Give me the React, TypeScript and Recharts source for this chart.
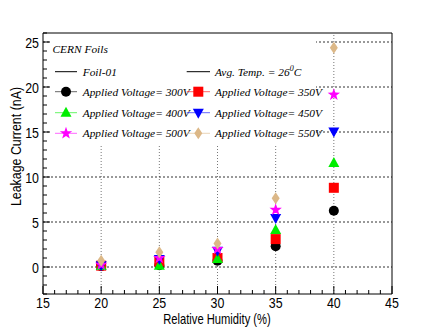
import React from "react";
import { ScatterChart, Scatter, XAxis, YAxis, ReferenceLine } from "recharts";

// relative humidity (%) at which each foil measurement was taken
const humidity = [20, 25, 30, 35, 40];

// leakage current (nA) per applied voltage
const leak300 = [0.1, 0.2, 0.7, 2.3, 6.25];
const leak350 = [0.15, 0.6, 1.0, 3.1, 8.8];
const leak400 = [0.1, 0.15, 0.9, 4.1, 11.55];
const leak450 = [0.2, 0.9, 1.8, 5.45, 15.05];
const leak500 = [0.25, 1.0, 2.0, 6.35, 19.15];
const leak550 = [0.7, 1.65, 2.6, 7.65, 24.35];

const voltageLabels = ["300V", "350V", "400V", "450V", "500V", "550V"];

const xTicks = [15, 16, 17, 18, 19, 20, 21, 22, 23, 24, 25, 26, 27, 28, 29, 30, 31, 32, 33, 34, 35, 36, 37, 38, 39, 40, 41, 42, 43, 44, 45];
const yTicks = [-3, -2, -1, 0, 1, 2, 3, 4, 5, 6, 7, 8, 9, 10, 11, 12, 13, 14, 15, 16, 17, 18, 19, 20, 21, 22, 23, 24, 25, 26];
const xGrid = [20, 25, 30, 35, 40];
const yGrid = [0, 5, 10, 15, 20, 25];

const series = [
  { name: voltageLabels[0], values: leak300, color: "#000000", kind: "circle" },
  { name: voltageLabels[1], values: leak350, color: "#ff0000", kind: "square" },
  { name: voltageLabels[2], values: leak400, color: "#00ee00", kind: "triangle" },
  { name: voltageLabels[3], values: leak450, color: "#0000ff", kind: "triangleDown" },
  { name: voltageLabels[4], values: leak500, color: "#ff00ff", kind: "star" },
  { name: voltageLabels[5], values: leak550, color: "#dcb888", kind: "diamond" },
];

const sansFont = "'Liberation Sans', Arial, sans-serif";
const legendFont = "'Liberation Serif', 'DejaVu Serif', serif";
const squeeze = 0.8; // ROOT's helvetica renders narrower than Liberation Sans

function starPoints(cx: number, cy: number, outer: number, inner: number) {
  const pts: string[] = [];
  for (let i = 0; i < 10; i++) {
    const r = i % 2 === 0 ? outer : inner;
    const a = -Math.PI / 2 + (i * Math.PI) / 5;
    pts.push(`${cx + r * Math.cos(a)},${cy + r * Math.sin(a)}`);
  }
  return pts.join(" ");
}

function Marker({ kind, color, cx, cy }: { kind: string; color: string; cx: number; cy: number }) {
  if (cx == null || cy == null) return null;
  switch (kind) {
    case "circle":
      return <circle cx={cx} cy={cy} r={5} fill={color} />;
    case "square":
      return <rect x={cx - 5} y={cy - 5} width={10} height={10} fill={color} />;
    case "triangle":
      return <polygon points={`${cx},${cy - 6} ${cx + 5.5},${cy + 4} ${cx - 5.5},${cy + 4}`} fill={color} />;
    case "triangleDown":
      return <polygon points={`${cx},${cy + 6} ${cx + 5.5},${cy - 4} ${cx - 5.5},${cy - 4}`} fill={color} />;
    case "star":
      return <polygon points={starPoints(cx, cy, 6.5, 2.6)} fill={color} />;
    case "diamond":
      return <polygon points={`${cx},${cy - 6} ${cx + 4},${cy} ${cx},${cy + 6} ${cx - 4},${cy}`} fill={color} />;
  }
  return null;
}

// axis sits at the plot edge (tickSize/tickMargin 0); ticks point inward like ROOT
const XTick = (props: any) => {
  const { x, y, payload } = props;
  const major = payload.value % 5 === 0;
  return (
    <g>
      <line x1={x} x2={x} y1={y} y2={y - (major ? 8 : 4)} stroke="#000" />
      {major && (
        <text
          transform={`translate(${x},${y + 13.5}) scale(${squeeze},1)`}
          textAnchor="middle"
          fontFamily={sansFont}
          fontSize={15.5}
          fill="#000"
        >
          {payload.value}
        </text>
      )}
    </g>
  );
};

const YTick = (props: any) => {
  const { x, y, payload } = props;
  const major = payload.value % 5 === 0;
  return (
    <g>
      <line x1={x} x2={x + (major ? 7 : 4)} y1={y} y2={y} stroke="#000" />
      {major && (
        <text
          transform={`translate(${x - 4},${y + 5.5}) scale(${squeeze},1)`}
          textAnchor="end"
          fontFamily={sansFont}
          fontSize={15.5}
          fill="#000"
        >
          {payload.value}
        </text>
      )}
    </g>
  );
};

function Overlay() {
  const rowsY = [91.7, 112.7, 133.3];
  const cols = [
    { lineX1: 55, lineX2: 77, markX: 66, textX: 82.7 },
    { lineX1: 186.7, lineX2: 210, markX: 198.3, textX: 215 },
  ];
  const textStyle = { fontFamily: legendFont, fontStyle: "italic" as const, fontSize: 11.4 };
  return (
    <svg width={436} height={327} style={{ position: "absolute", left: 0, top: 0, pointerEvents: "none" }}>
      <rect x={51} y={35} width={265} height={110} fill="#fff" />
      <text x={52.5} y={53} {...textStyle}>CERN Foils</text>
      <line x1={cols[0].lineX1} x2={cols[0].lineX2} y1={71.7} y2={71.7} stroke="#000" />
      <text x={cols[0].textX} y={75.7} {...textStyle}>Foil-01</text>
      <line x1={cols[1].lineX1} x2={cols[1].lineX2} y1={71.7} y2={71.7} stroke="#000" />
      <text x={cols[1].textX} y={75.7} {...textStyle}>
        Avg. Temp. = 26<tspan dy={-5} fontSize={8}>0</tspan>
        <tspan dy={5}>C</tspan>
      </text>
      {series.map((s, i) => {
        const col = cols[i % 2];
        const ry = rowsY[Math.floor(i / 2)];
        return (
          <g key={s.name}>
            <line x1={col.lineX1} x2={col.lineX2} y1={ry} y2={ry} stroke={s.color} strokeOpacity={0.6} />
            <Marker kind={s.kind} color={s.color} cx={col.markX} cy={ry} />
            <text x={col.textX} y={ry + 4} {...textStyle}>{`Applied Voltage= ${s.name}`}</text>
          </g>
        );
      })}
      <text
        transform={`translate(217,323.5) scale(${squeeze},1)`}
        textAnchor="middle"
        fontFamily={sansFont}
        fontSize={14}
      >
        Relative Humidity (%)
      </text>
      <text
        transform={`translate(21,146.5) rotate(-90) scale(${squeeze},1)`}
        textAnchor="middle"
        fontFamily={sansFont}
        fontSize={15.5}
      >
        Leakage Current (nA)
      </text>
    </svg>
  );
}

export default function App() {
  return (
    <div style={{ position: "absolute", left: 0, top: 0, width: 436, height: 327, background: "#fff" }}>
      <ScatterChart width={436} height={327} margin={{ top: 33, right: 44, bottom: 32, left: 42 }}>
        <XAxis
          type="number"
          dataKey="x"
          domain={[15, 45]}
          ticks={xTicks}
          interval={0}
          height={1}
          tickSize={0}
          tickMargin={0}
          tick={<XTick />}
          axisLine={{ stroke: "#000" }}
          tickLine={false}
          allowDataOverflow
        />
        <YAxis
          type="number"
          dataKey="y"
          domain={[-3, 26]}
          ticks={yTicks}
          interval={0}
          width={1}
          tickSize={0}
          tickMargin={0}
          tick={<YTick />}
          axisLine={{ stroke: "#000" }}
          tickLine={false}
          allowDataOverflow
        />
        {xGrid.map((v) => (
          <ReferenceLine key={`gx${v}`} x={v} stroke="#777" strokeDasharray="1 2" />
        ))}
        {yGrid.map((v) => (
          <ReferenceLine key={`gy${v}`} y={v} stroke="#333" strokeDasharray="2 2" />
        ))}
        <ReferenceLine x={45} stroke="#000" />
        <ReferenceLine y={26} stroke="#000" />
        {series.map((s) => (
          <Scatter
            key={s.name}
            name={s.name}
            data={humidity.map((h, i) => ({ x: h, y: s.values[i] }))}
            isAnimationActive={false}
            shape={(p: any) => <Marker kind={s.kind} color={s.color} cx={p.cx} cy={p.cy} />}
          />
        ))}
      </ScatterChart>
      <Overlay />
    </div>
  );
}
